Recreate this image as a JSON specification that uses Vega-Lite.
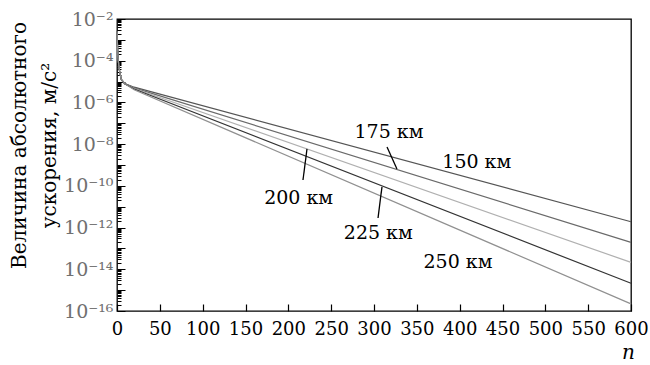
{
  "$schema": "https://vega.github.io/schema/vega-lite/v6.json",
  "width": 514,
  "height": 292,
  "autosize": "none",
  "padding": {"left": 117, "top": 19, "right": 19, "bottom": 54},
  "background": "white",
  "config": {
    "view": {"stroke": "black", "strokeWidth": 1.3},
    "font": "DejaVu Serif"
  },
  "datasets": {
    "lines": [
      {"h": "150", "n": 0, "a": 2.51e-3}, {"h": "150", "n": 1, "a": 2.0e-4}, {"h": "150", "n": 2, "a": 6.31e-5}, {"h": "150", "n": 3, "a": 3.16e-5}, {"h": "150", "n": 5, "a": 1.26e-5}, {"h": "150", "n": 9, "a": 7.94e-6}, {"h": "150", "n": 20, "a": 5.37e-6}, {"h": "150", "n": 600, "a": 1.91e-12},
      {"h": "175", "n": 0, "a": 2.51e-3}, {"h": "175", "n": 1, "a": 2.0e-4}, {"h": "175", "n": 2, "a": 6.31e-5}, {"h": "175", "n": 3, "a": 3.16e-5}, {"h": "175", "n": 5, "a": 1.26e-5}, {"h": "175", "n": 9, "a": 7.94e-6}, {"h": "175", "n": 20, "a": 5.01e-6}, {"h": "175", "n": 600, "a": 1.95e-13},
      {"h": "200", "n": 0, "a": 2.51e-3}, {"h": "200", "n": 1, "a": 2.0e-4}, {"h": "200", "n": 2, "a": 6.31e-5}, {"h": "200", "n": 3, "a": 3.16e-5}, {"h": "200", "n": 5, "a": 1.26e-5}, {"h": "200", "n": 9, "a": 7.94e-6}, {"h": "200", "n": 20, "a": 4.68e-6}, {"h": "200", "n": 600, "a": 2.14e-14},
      {"h": "225", "n": 0, "a": 2.51e-3}, {"h": "225", "n": 1, "a": 2.0e-4}, {"h": "225", "n": 2, "a": 6.31e-5}, {"h": "225", "n": 3, "a": 3.16e-5}, {"h": "225", "n": 5, "a": 1.26e-5}, {"h": "225", "n": 9, "a": 7.94e-6}, {"h": "225", "n": 20, "a": 4.37e-6}, {"h": "225", "n": 600, "a": 2.14e-15},
      {"h": "250", "n": 0, "a": 2.51e-3}, {"h": "250", "n": 1, "a": 2.0e-4}, {"h": "250", "n": 2, "a": 6.31e-5}, {"h": "250", "n": 3, "a": 3.16e-5}, {"h": "250", "n": 5, "a": 1.26e-5}, {"h": "250", "n": 9, "a": 7.94e-6}, {"h": "250", "n": 20, "a": 4.07e-6}, {"h": "250", "n": 600, "a": 2.19e-16}
    ],
    "labels": [
      {"t": "175 км", "n": 317.5, "a": 3.8e-8},
      {"t": "150 км", "n": 420, "a": 1.38e-9},
      {"t": "200 км", "n": 212, "a": 2.63e-11},
      {"t": "225 км", "n": 305, "a": 5.5e-13},
      {"t": "250 км", "n": 398, "a": 2.24e-14}
    ],
    "leaders": [
      {"n": 315.2, "a": 7.24e-9, "n2": 326.8, "a2": 6.46e-10},
      {"n": 217.1, "a": 1.91e-10, "n2": 221.8, "a2": 5.89e-9},
      {"n": 304.7, "a": 2.88e-12, "n2": 309.3, "a2": 8.91e-11}
    ]
  },
  "layer": [
    {
      "data": {"name": "lines"},
      "mark": {"type": "line", "strokeWidth": 1.2, "interpolate": "linear"},
      "encoding": {
        "x": {
          "field": "n", "type": "quantitative",
          "scale": {"domain": [0, 600], "nice": false, "zero": false},
          "axis": {
            "values": [0, 50, 100, 150, 200, 250, 300, 350, 400, 450, 500, 550, 600],
            "domain": false, "grid": false,
            "tickSize": -7, "tickColor": "black", "tickWidth": 1.2,
            "labelPadding": 16, "labelFontSize": 18, "labelColor": "black",
            "labelFont": "DejaVu Serif", "labelFlush": false,
            "title": "n", "titleFontStyle": "italic", "titleFontWeight": "normal",
            "titleFontSize": 20, "titleFont": "DejaVu Serif", "titleColor": "black",
            "titleX": 511, "titleY": 47, "titleBaseline": "alphabetic", "titleAnchor": "middle", "titleAlign": "center"
          }
        },
        "y": {
          "field": "a", "type": "quantitative",
          "scale": {"type": "log", "domain": [1e-16, 1e-2], "nice": false},
          "axis": {
            "values": [1e-16, 2e-16, 3e-16, 4e-16, 5e-16, 6e-16, 7e-16, 8e-16, 9e-16,
              1e-15, 2e-15, 3e-15, 4e-15, 5e-15, 6e-15, 7e-15, 8e-15, 9e-15,
              1e-14, 2e-14, 3e-14, 4e-14, 5e-14, 6e-14, 7e-14, 8e-14, 9e-14,
              1e-13, 2e-13, 3e-13, 4e-13, 5e-13, 6e-13, 7e-13, 8e-13, 9e-13,
              1e-12, 2e-12, 3e-12, 4e-12, 5e-12, 6e-12, 7e-12, 8e-12, 9e-12,
              1e-11, 2e-11, 3e-11, 4e-11, 5e-11, 6e-11, 7e-11, 8e-11, 9e-11,
              1e-10, 2e-10, 3e-10, 4e-10, 5e-10, 6e-10, 7e-10, 8e-10, 9e-10,
              1e-9, 2e-9, 3e-9, 4e-9, 5e-9, 6e-9, 7e-9, 8e-9, 9e-9,
              1e-8, 2e-8, 3e-8, 4e-8, 5e-8, 6e-8, 7e-8, 8e-8, 9e-8,
              1e-7, 2e-7, 3e-7, 4e-7, 5e-7, 6e-7, 7e-7, 8e-7, 9e-7,
              1e-6, 2e-6, 3e-6, 4e-6, 5e-6, 6e-6, 7e-6, 8e-6, 9e-6,
              1e-5, 2e-5, 3e-5, 4e-5, 5e-5, 6e-5, 7e-5, 8e-5, 9e-5,
              1e-4, 2e-4, 3e-4, 4e-4, 5e-4, 6e-4, 7e-4, 8e-4, 9e-4,
              1e-3, 2e-3, 3e-3, 4e-3, 5e-3, 6e-3, 7e-3, 8e-3, 9e-3, 1e-2],
            "domain": false, "grid": false,
            "tickColor": "black", "tickWidth": 1,
            "tickSize": {"condition": {"test": "abs(log(datum.value)/LN10 - round(log(datum.value)/LN10)) < 0.01", "value": -8}, "value": -4},
            "labelPadding": 12,
            "labelFontSize": 19, "labelColor": "#707070", "labelFont": "DejaVu Serif",
            "labelFlush": false, "labelOverlap": false, "labelBaseline": "middle",
            "labelExpr": "abs(log(datum.value)/LN10 - round(log(datum.value)/LN10)) < 0.01 ? (round(log(datum.value)/LN10) == -2 ? '10⁻²' : round(log(datum.value)/LN10) == -4 ? '10⁻⁴' : round(log(datum.value)/LN10) == -6 ? '10⁻⁶' : round(log(datum.value)/LN10) == -8 ? '10⁻⁸' : round(log(datum.value)/LN10) == -10 ? '10⁻¹⁰' : round(log(datum.value)/LN10) == -12 ? '10⁻¹²' : round(log(datum.value)/LN10) == -14 ? '10⁻¹⁴' : round(log(datum.value)/LN10) == -16 ? '10⁻¹⁶' : '') : ''",
            "title": ["Величина абсолютного", "ускорения, м/с²"],
            "titleFont": "DejaVu Serif", "titleFontSize": 20, "titleFontWeight": "normal",
            "titleColor": "black", "titleLineHeight": 30,
            "titleAngle": -90, "titleX": -92, "titleY": 126, "titleBaseline": "alphabetic", "titleAlign": "center"
          }
        },
        "color": {
          "field": "h", "type": "nominal",
          "scale": {"domain": ["150", "175", "200", "225", "250"], "range": ["#555555", "#6a6a6a", "#b0b0b0", "#333333", "#909090"]},
          "legend": null
        }
      }
    },
    {
      "data": {"name": "leaders"},
      "mark": {"type": "rule", "color": "black", "strokeWidth": 1.3},
      "encoding": {
        "x": {"field": "n", "type": "quantitative"},
        "y": {"field": "a", "type": "quantitative"},
        "x2": {"field": "n2"},
        "y2": {"field": "a2"}
      }
    },
    {
      "data": {"name": "labels"},
      "mark": {"type": "text", "font": "DejaVu Serif", "fontSize": 19, "color": "black", "align": "center", "baseline": "middle"},
      "encoding": {
        "x": {"field": "n", "type": "quantitative"},
        "y": {"field": "a", "type": "quantitative"},
        "text": {"field": "t"}
      }
    }
  ]
}
